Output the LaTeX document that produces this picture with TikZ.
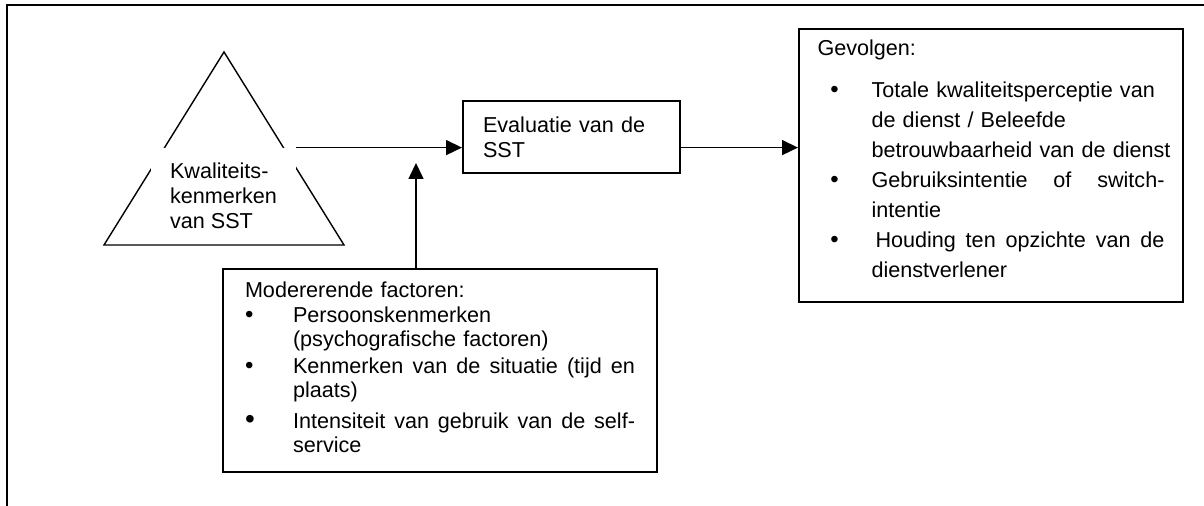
\documentclass[tikz,border=0pt]{standalone}
\usepackage{fontspec}
\setmainfont{Liberation Sans}
\usetikzlibrary{arrows.meta}
\newcommand\gbul{\makebox[27pt][l]{\hspace*{6.4pt}{\fontsize{12}{12}\selectfont\textbullet}}}
\newcommand\mbul{\makebox[24pt][l]{\fontsize{12}{12}\selectfont\textbullet}}
\newcommand\spread[2]{\makebox[#1][s]{\spaceskip=0pt\xspaceskip=0pt #2}}
\tikzset{
  >={Triangle[length=8pt,width=7.5pt]},
  txt/.style={font=\fontsize{10.8}{12.5}\selectfont},
  box/.style={draw,line width=1pt,inner ysep=0pt,align=left,txt},
  flow/.style={->,line width=0.75pt},
  frame/.style={line width=1.1pt},
  tri/.style={line width=0.7pt},
}
\begin{document}
\begin{tikzpicture}[x=0.5pt,y=-0.5pt]
  \useasboundingbox (0,0) rectangle (1204,506);
  \draw[frame] (7,506) -- (7,5) -- (1204,5);
  % SST triangle, its label box hides the middle part
  \draw[tri] (224,52) -- (344,245) -- (104,245) -- cycle;
  \node[fill=white,inner sep=0pt,align=left,txt,minimum width=72.5pt,minimum height=48.25pt] (kwal) at (223.5,196.25) {Kwaliteits-\\kenmerken\\van SST};
  \node[box,minimum width=108.5pt,minimum height=36pt,text width=88.5pt,inner xsep=10pt] (eval) at (571.5,137) {Evaluatie van de\\SST};
  \node[box,minimum width=192pt,minimum height=136.5pt,text width=173.5pt,inner xsep=9.25pt,font=\fontsize{10.8}{15}\selectfont] (gev) at (991,165.5) {\noindent\begin{tabular}{@{}l@{}l@{}}
    \multicolumn{2}{@{}l@{}}{Gevolgen:}\\[6pt]
    \gbul & Totale kwaliteitsperceptie van\\
     & de dienst / Beleefde\\
     & betrouwbaarheid van de dienst\\
    \gbul & \spread{146.5pt}{Gebruiksintentie of switch-}\\
     & intentie\\
    \gbul & \spread{146.5pt}{\kern2pt Houding ten opzichte van de}\\
     & dienstverlener\\[5pt]
  \end{tabular}};
  \node[box,minimum height=101.5pt,text width=195pt,inner xsep=11pt,font=\fontsize{10.8}{12.25}\selectfont] (mod) at (440,370.5) {\noindent\begin{tabular}{@{}l@{}l@{}}
    \multicolumn{2}{@{}l@{}}{Modererende factoren:}\\
    \mbul & Persoonskenmerken\\
     & (psychografische factoren)\\[1pt]
    \mbul & \spread{171pt}{Kenmerken van de situatie (tijd en}\\
     & plaats)\\[3pt]
    \makebox[24pt][l]{\fontsize{14}{14}\selectfont\textbullet} & \spread{171pt}{Intensiteit van gebruik van de self-}\\
     & service
  \end{tabular}};
  \coordinate (up) at (416,163);
  \draw[flow] (kwal.north east) -- (kwal.north east -| eval.west);
  \draw[flow] (eval.east |- kwal.north east) -- (gev.west |- kwal.north east);
  \draw[flow] (mod.north -| up) -- (up);
\end{tikzpicture}
\end{document}
